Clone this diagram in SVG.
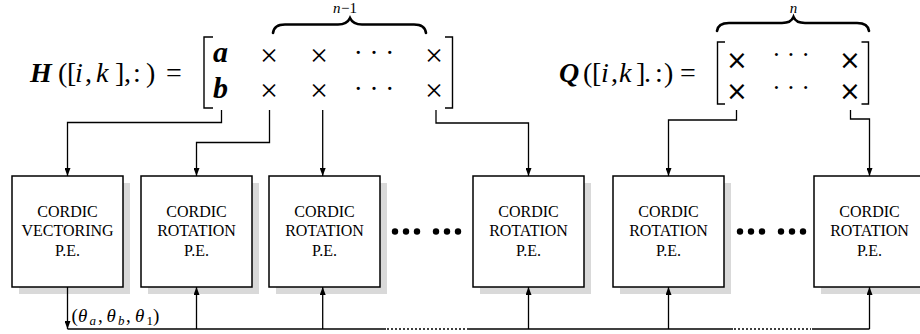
<svg xmlns="http://www.w3.org/2000/svg" width="920" height="334" viewBox="0 0 920 334">
<defs>
  <marker id="ah" viewBox="0 0 8 6" markerWidth="8" markerHeight="6" refX="8" refY="3" orient="auto" markerUnits="userSpaceOnUse">
    <path d="M0,0 L8,3 L0,6 z" fill="#000"/>
  </marker>
  <style>
    .box{fill:#fff;stroke:#000;stroke-width:1.5}
    .shadow{fill:#d9d9d9;stroke:none}
    .lbl{font-family:"Liberation Serif","Times New Roman",serif;font-size:16px;fill:#000;text-anchor:middle}
    .math{font-family:"Liberation Serif","Times New Roman",serif;fill:#000}
    .bi{font-weight:bold;font-style:italic}
    .it{font-style:italic}
    .wire{fill:none;stroke:#000;stroke-width:1.3}
    .dot{fill:none;stroke:#000;stroke-width:1.3;stroke-dasharray:2,2}
    .brk{fill:none;stroke:#000;stroke-width:1.4}
    .brace{fill:none;stroke:#000;stroke-width:2.6;stroke-linecap:round}
    .x{font-family:"Liberation Serif","Times New Roman",serif;fill:#000;text-anchor:middle}
    .xs{font-family:"DejaVu Sans",sans-serif;fill:#000;text-anchor:middle}
  </style>
</defs>
<rect width="920" height="334" fill="#fff"/>

<!-- Equations -->
<g id="eqH">
  <text class="math" font-size="28" y="82">
    <tspan class="bi" x="30">H</tspan><tspan x="58">(</tspan><tspan x="67">[</tspan><tspan class="it" x="75">i</tspan><tspan x="85">,</tspan><tspan class="it" x="96">k</tspan><tspan x="115">]</tspan><tspan x="124">,</tspan><tspan x="133">:</tspan><tspan x="146">)</tspan><tspan x="166">=</tspan>
  </text>
  <path class="brk" d="M213,37 H204 V108 H213"/>
  <path class="brk" d="M445,37 H452.5 V108 H445"/>
  <text class="math bi" font-size="30" x="213" y="62">a</text>
  <text class="math bi" font-size="30" x="213" y="98">b</text>
  <text class="x" font-size="32" x="269" y="66">×</text>
  <text class="x" font-size="32" x="319" y="66">×</text>
  <text class="x" font-size="32" x="434" y="66">×</text>
  <text class="x" font-size="32" x="269" y="101">×</text>
  <text class="x" font-size="32" x="319" y="101">×</text>
  <text class="x" font-size="32" x="434" y="101">×</text>
  <text class="x" font-size="27" x="374" y="61.5">· · ·</text>
  <text class="x" font-size="27" x="374" y="98">· · ·</text>
  <path class="brace" d="M273,33 Q274,24.5 285,24.5 H338 Q347,24.5 350,18 Q353,24.5 362,24.5 H414 Q425,24.5 426,33"/>
  <text class="math" font-size="15" y="13"><tspan class="it" x="333">n</tspan><tspan x="341">−1</tspan></text>
</g>

<g id="eqQ">
  <text class="math" font-size="28" y="82">
    <tspan class="bi" x="559">Q</tspan><tspan x="583">(</tspan><tspan x="592">[</tspan><tspan class="it" x="601">i</tspan><tspan x="611">,</tspan><tspan class="it" x="619">k</tspan><tspan x="636">]</tspan><tspan x="644">.</tspan><tspan x="655">:</tspan><tspan x="664">)</tspan><tspan x="680">=</tspan>
  </text>
  <path class="brk" d="M725,42 H717.5 V104 H725"/>
  <path class="brk" d="M861.5,42 H868.5 V104 H861.5"/>
  <text class="xs" font-size="26" x="737" y="68.5">×</text>
  <text class="xs" font-size="26" x="850" y="68.5">×</text>
  <text class="xs" font-size="26" x="737" y="99.5">×</text>
  <text class="xs" font-size="26" x="850" y="99.5">×</text>
  <text class="x" font-size="25" x="791" y="63">· · ·</text>
  <text class="x" font-size="25" x="791" y="95.5">· · ·</text>
  <path class="brace" d="M717,31 Q718,23 729,23 H782 Q791,23 793.5,17 Q796,23 805,23 H857 Q868,23 869,31"/>
  <text class="math it" font-size="15" x="793.5" y="13" text-anchor="middle">n</text>
</g>

<!-- Nodes -->
<g id="pe1">
  <rect class="shadow" x="19" y="183" width="111" height="111"/>
  <rect class="box" x="12" y="176" width="111" height="111"/>
  <text class="lbl" x="67.5" y="216.5">CORDIC</text>
  <text class="lbl" x="67.5" y="236">VECTORING</text>
  <text class="lbl" x="67.5" y="255.5">P.E.</text>
</g>
<g id="pe2">
  <rect class="shadow" x="148" y="183" width="111" height="111"/>
  <rect class="box" x="141" y="176" width="111" height="111"/>
  <text class="lbl" x="196.5" y="216.5">CORDIC</text>
  <text class="lbl" x="196.5" y="236">ROTATION</text>
  <text class="lbl" x="196.5" y="255.5">P.E.</text>
</g>
<g id="pe3">
  <rect class="shadow" x="276" y="183" width="111" height="111"/>
  <rect class="box" x="269" y="176" width="111" height="111"/>
  <text class="lbl" x="324.5" y="216.5">CORDIC</text>
  <text class="lbl" x="324.5" y="236">ROTATION</text>
  <text class="lbl" x="324.5" y="255.5">P.E.</text>
</g>
<g id="dots1">
  <circle cx="395" cy="231.5" r="3.2"/><circle cx="406" cy="231.5" r="3.2"/><circle cx="417" cy="231.5" r="3.2"/>
  <circle cx="436" cy="231.5" r="3.2"/><circle cx="447" cy="231.5" r="3.2"/><circle cx="458" cy="231.5" r="3.2"/>
</g>
<g id="pe4">
  <rect class="shadow" x="480" y="183" width="111" height="111"/>
  <rect class="box" x="473" y="176" width="111" height="111"/>
  <text class="lbl" x="528.5" y="216.5">CORDIC</text>
  <text class="lbl" x="528.5" y="236">ROTATION</text>
  <text class="lbl" x="528.5" y="255.5">P.E.</text>
</g>
<g id="pe5">
  <rect class="shadow" x="620" y="183" width="111" height="111"/>
  <rect class="box" x="613" y="176" width="111" height="111"/>
  <text class="lbl" x="668.5" y="216.5">CORDIC</text>
  <text class="lbl" x="668.5" y="236">ROTATION</text>
  <text class="lbl" x="668.5" y="255.5">P.E.</text>
</g>
<g id="dots2">
  <circle cx="740" cy="231.5" r="3.2"/><circle cx="751" cy="231.5" r="3.2"/><circle cx="762" cy="231.5" r="3.2"/>
  <circle cx="781" cy="231.5" r="3.2"/><circle cx="792" cy="231.5" r="3.2"/><circle cx="803" cy="231.5" r="3.2"/>
</g>
<g id="pe6">
  <rect class="shadow" x="821" y="183" width="111" height="111"/>
  <rect class="box" x="814" y="176" width="111" height="111"/>
  <text class="lbl" x="869.5" y="216.5">CORDIC</text>
  <text class="lbl" x="869.5" y="236">ROTATION</text>
  <text class="lbl" x="869.5" y="255.5">P.E.</text>
</g>

<!-- Connectors -->
<g id="connectors">
  <path class="wire" d="M221.5,110 V122.5 H67.5 V176" marker-end="url(#ah)"/>
  <path class="wire" d="M269.5,110 V142.5 H196.5 V176" marker-end="url(#ah)"/>
  <path class="wire" d="M322.7,110 V176" marker-end="url(#ah)"/>
  <path class="wire" d="M436,110 V123 H528.5 V176" marker-end="url(#ah)"/>
  <path class="wire" d="M736.5,110 V120 H668.5 V176" marker-end="url(#ah)"/>
  <path class="wire" d="M850.5,110 V119 H869.5 V176" marker-end="url(#ah)"/>

  <path class="wire" d="M67.5,287 V329" marker-end="url(#ah)"/>
  <path class="wire" d="M67.5,329 H386"/>
  <path class="dot" d="M387,329 H466"/>
  <path class="wire" d="M467,329 H733"/>
  <path class="dot" d="M734,329 H811"/>
  <path class="wire" d="M812,329 H869.5"/>
  <path class="wire" d="M196.5,329 V287" marker-end="url(#ah)"/>
  <path class="wire" d="M322.7,329 V287" marker-end="url(#ah)"/>
  <path class="wire" d="M528.5,329 V287" marker-end="url(#ah)"/>
  <path class="wire" d="M668.5,329 V287" marker-end="url(#ah)"/>
  <path class="wire" d="M869.5,329 V287" marker-end="url(#ah)"/>
  <text class="math" font-size="19" y="322"><tspan x="71.5">(</tspan><tspan class="it" x="78">θ</tspan><tspan class="it" font-size="13" x="89.5" dy="3">a</tspan><tspan x="98" dy="-3">,</tspan><tspan class="it" x="106.5">θ</tspan><tspan class="it" font-size="13" x="118" dy="3">b</tspan><tspan x="126" dy="-3">,</tspan><tspan class="it" x="135">θ</tspan><tspan font-size="13" x="146.5" dy="3">1</tspan><tspan x="153" dy="-3">)</tspan></text>
</g>
</svg>
